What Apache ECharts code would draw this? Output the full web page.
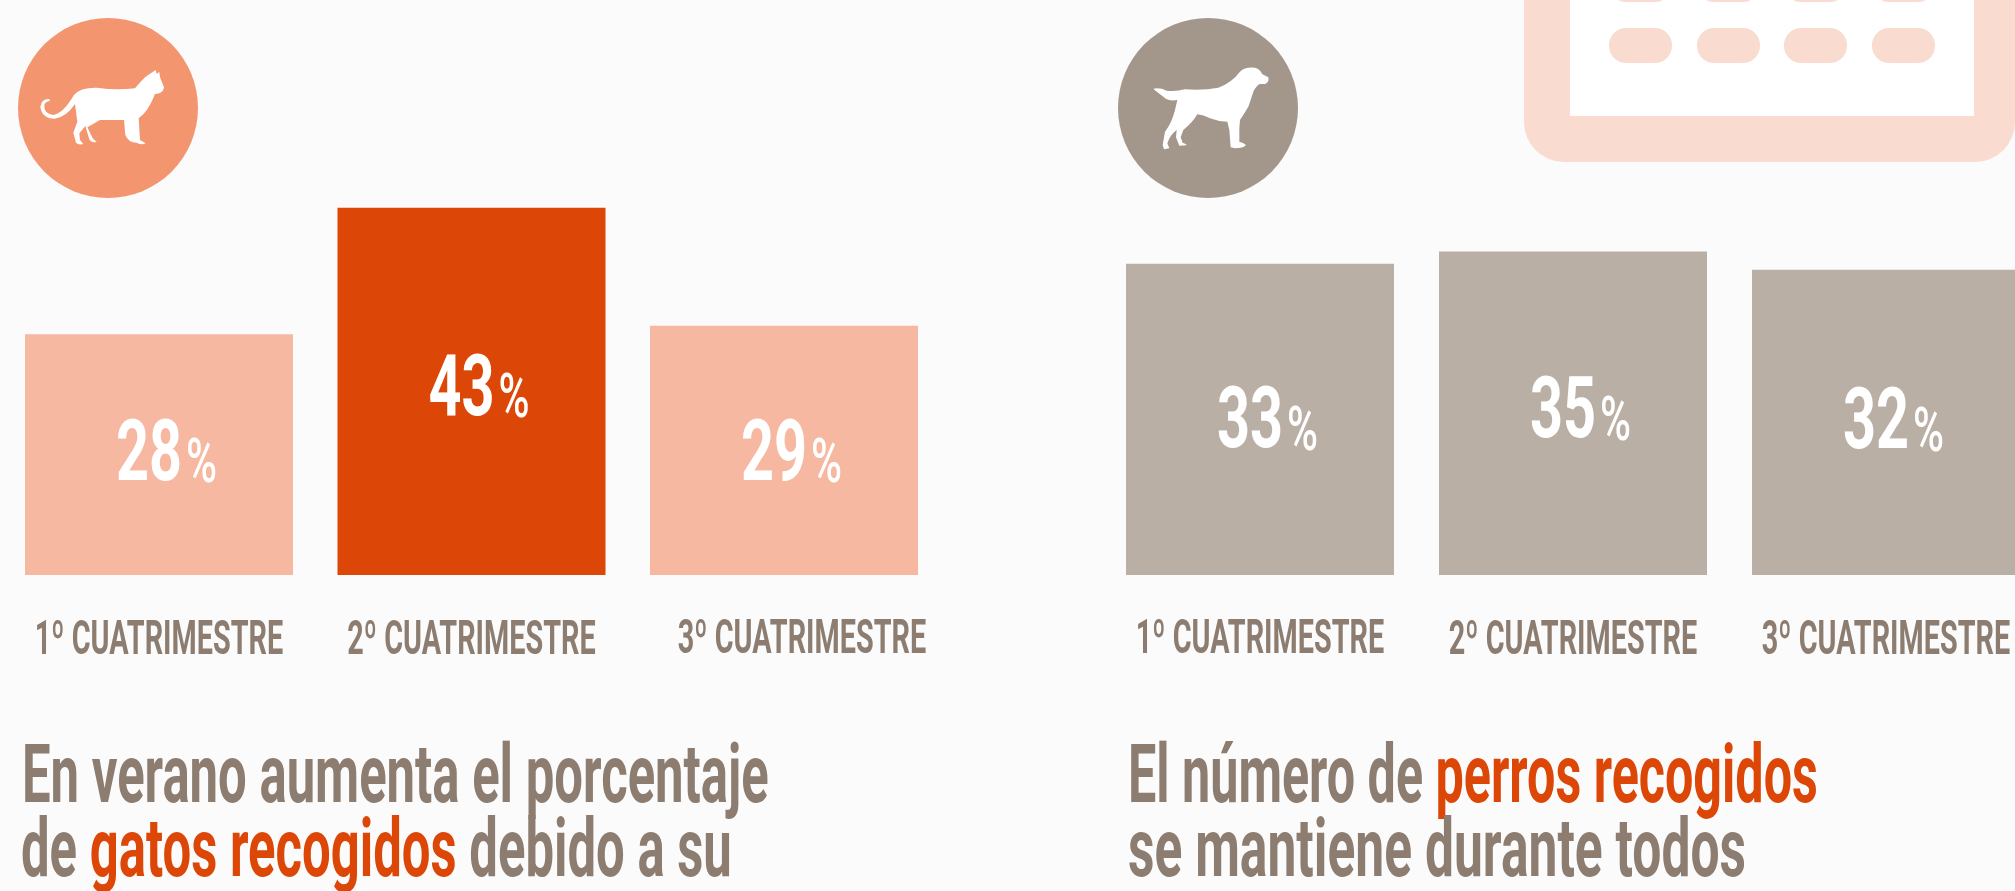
<!DOCTYPE html>
<html>
<head>
<meta charset="utf-8">
<style>
  html, body { margin: 0; padding: 0; background: #fbfbfc; overflow: hidden; }
  #main { width: 2015px; height: 891px; }
</style>
<script src="https://cdn.jsdelivr.net/npm/echarts@6/dist/echarts.min.js"></script>
</head>
<body>
<div id="main"></div>
<script>
var categories = ['1º CUATRIMESTRE', '2º CUATRIMESTRE', '3º CUATRIMESTRE'];
var catValues = [28, 43, 29];
var dogValues = [33, 35, 32];
var catHeadline = ['En verano aumenta el porcentaje', ['de ', 'gatos recogidos', ' debido a su']];
var dogHeadline = [['El número de ', 'perros recogidos', ''], 'se mantiene durante todos'];

var FONT = 'Roboto';
var BROWN = '#8d7d70';
var ORANGE = '#dc4708';
var PALE = '#f9dccf';

// small corrections per label, the source art is not quite regular
var catNudge = { value: [26, 24.5, 30.5], axisX: [0, 0, 18], axisY: [0, 0, -1] };
var dogNudge = { value: [29, 25, 27], axisX: [0, 0, 0], axisY: [-1, 0, 0] };

var catPath = 'M492 262 L480 232 L478 216 L470 222 L467 210 L440 228 Q425 240 405 265 Q350 272 290 263 Q240 262 222 285 Q190 340 160 345 Q130 340 133 315 Q135 305 150 303 L148 297 Q125 295 121 320 Q125 355 165 356 Q200 350 225 312 L232 365 L220 398 L228 428 Q235 436 250 432 L240 420 L238 400 L256 378 L268 418 Q275 430 290 426 L278 415 L262 382 L300 360 L372 360 L376 405 Q385 428 410 428 Q425 437 437 430 L420 420 L416 355 Q445 335 465 282 Q490 282 492 262 Z';
var dogPath = 'M40 116 Q60 112 80 122 Q105 126 135 118 Q190 122 235 113 Q275 98 300 65 Q315 50 345 53 Q362 58 366 72 L385 82 Q388 98 375 102 L360 102 Q350 105 340 125 Q332 150 325 170 Q310 195 300 210 L298 235 L298 275 Q310 278 318 285 Q310 295 285 295 L272 292 L268 240 L262 215 Q235 215 210 205 Q190 195 172 193 Q160 215 130 240 L122 262 L128 278 Q140 282 140 286 L118 287 L108 262 L110 240 Q90 255 82 280 L88 295 L72 298 L68 285 L75 245 Q95 220 105 180 L112 150 Q85 155 70 140 Q50 125 40 116 Z';

echarts.graphic.registerShape('catIcon', echarts.graphic.extendPath(catPath, {}));
echarts.graphic.registerShape('dogIcon', echarts.graphic.extendPath(dogPath, {}));

function labelSeries(gridIndex, values, nudge) {
  return {
    type: 'custom',
    xAxisIndex: gridIndex,
    yAxisIndex: gridIndex,
    data: values.map(function (v, i) { return [i, v]; }),
    encode: { x: 0, y: 1 },
    z: 5,
    silent: true,
    renderItem: function (params, api) {
      var i = api.value(0);
      var v = api.value(1);
      var top = api.coord([i, v]);
      var base = api.coord([i, gridIndex === 0 ? catMin : dogMin]);
      var cx = top[0];
      var baseline = (top[1] + base[1]) / 2 + nudge.value[i];
      return {
        type: 'group',
        children: [
          {
            type: 'text', x: cx + 23, y: baseline - 22.5, scaleX: 0.67,
            style: { text: String(v), fill: '#fff', font: '700 86px ' + FONT, align: 'right', verticalAlign: 'middle' }
          },
          {
            type: 'text', x: cx + 27, y: baseline - 14, scaleX: 0.68,
            style: { text: '%', fill: '#fff', font: '500 62px ' + FONT, align: 'left', verticalAlign: 'middle' }
          },
          {
            type: 'text', x: cx + nudge.axisX[i], y: base[1] + 67 + nudge.axisY[i], scaleX: 0.6,
            style: { text: categories[i], fill: BROWN, font: '700 48px ' + FONT, align: 'center', verticalAlign: 'middle' }
          }
        ]
      };
    }
  };
}

function headlineText(parts, x, y, sx) {
  var text = typeof parts === 'string' ? '{a|' + parts + '}'
    : '{a|' + parts[0] + '}{b|' + parts[1] + '}' + (parts[2] ? '{a|' + parts[2] + '}' : '');
  return {
    type: 'text', x: x, y: y, scaleX: sx,
    style: {
      text: text,
      verticalAlign: 'middle',
      rich: {
        a: { font: '700 82px ' + FONT, fill: BROWN },
        b: { font: '700 82px ' + FONT, fill: ORANGE }
      }
    }
  };
}

function pill(x, y) {
  return { type: 'rect', shape: { x: x, y: y, width: 63, height: 35, r: 17 }, style: { fill: PALE } };
}

var catMin = -0.55;
var catMax = 43.93;
var dogMin = -17.7;
var dogMax = 43.37;

var myChart = echarts.init(document.getElementById('main'), null, { renderer: 'canvas' });
myChart.setOption({
  animation: false,
  backgroundColor: '#fbfbfc',
  grid: [
    { left: 2.75, top: 200, width: 937.5, height: 375, outerBoundsMode: 'none' },
    { left: 1103.5, top: 200, width: 939, height: 375, outerBoundsMode: 'none' }
  ],
  xAxis: [0, 1].map(function (g) {
    return {
      gridIndex: g, type: 'category', data: categories,
      axisLine: { show: false }, axisTick: { show: false }, axisLabel: { show: false }
    };
  }),
  yAxis: [
    { gridIndex: 0, type: 'value', min: catMin, max: catMax, startValue: catMin, show: false },
    { gridIndex: 1, type: 'value', min: dogMin, max: dogMax, startValue: dogMin, show: false }
  ],
  series: [
    {
      type: 'bar', xAxisIndex: 0, yAxisIndex: 0, barWidth: 268, silent: true,
      data: catValues.map(function (v, i) {
        return { value: v, itemStyle: { color: i === 1 ? ORANGE : '#f6b8a0' } };
      })
    },
    {
      type: 'bar', xAxisIndex: 1, yAxisIndex: 1, barWidth: 268, silent: true,
      data: dogValues,
      itemStyle: { color: '#b9afa5' }
    },
    labelSeries(0, catValues, catNudge),
    labelSeries(1, dogValues, dogNudge)
  ],
  graphic: [
    // calendar in the corner
    { type: 'rect', z: 0, shape: { x: 1524, y: -60, width: 491, height: 222, r: 40 }, style: { fill: PALE } },
    { type: 'rect', z: 0, shape: { x: 1570, y: -60, width: 404, height: 176 }, style: { fill: '#fff' } },
    pill(1609, -33), pill(1697, -33), pill(1784, -33), pill(1872, -33),
    pill(1609, 28), pill(1697, 28), pill(1784, 28), pill(1872, 28),
    // icons
    { type: 'circle', shape: { cx: 108, cy: 108, r: 90 }, style: { fill: '#f39670' } },
    { type: 'catIcon', x: 0, y: 0, scaleX: 1 / 3, scaleY: 1 / 3, style: { fill: '#fff' } },
    { type: 'circle', shape: { cx: 1208, cy: 108, r: 90 }, style: { fill: '#a3968b' } },
    { type: 'dogIcon', x: 1140, y: 50, scaleX: 1 / 3, scaleY: 1 / 3, style: { fill: '#fff' } },
    // headlines
    headlineText(catHeadline[0], 22, 781, 0.62),
    headlineText(catHeadline[1], 21, 855, 0.62),
    headlineText(dogHeadline[0], 1128, 781, 0.613),
    headlineText(dogHeadline[1], 1128, 855, 0.629)
  ]
});
</script>
</body>
</html>
